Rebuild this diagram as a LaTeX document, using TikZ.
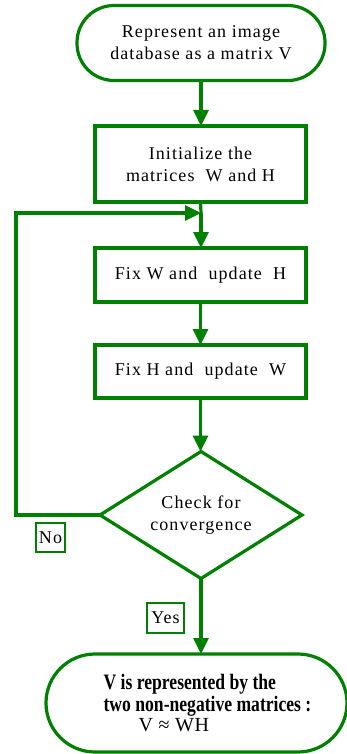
\documentclass[tikz,border=0pt]{standalone}
\usepackage{fontspec}
\setmainfont{Liberation Serif}
\newfontfamily\condfont[FakeStretch=0.8]{Liberation Serif}
\usetikzlibrary{arrows.meta,shapes.geometric}
\definecolor{fg}{RGB}{0,128,0}
\newcommand\mfont{\fontsize{18}{22}\selectfont\addfontfeatures{LetterSpace=6}}
\newcommand\bfnt{\condfont\fontsize{22}{28}\selectfont\bfseries}
\begin{document}
\begin{tikzpicture}[x=1pt,y=-1pt,
  line/.style={draw=fg, line width=3.2pt},
  arr/.style={line, -{Triangle[length=16pt,width=15pt]}},
  shp/.style={draw=fg, line width=3.2pt, align=center, inner sep=0pt, outer sep=0pt, text=black, font=\mfont},
  term/.style={shp, rectangle, rounded corners=37pt, minimum width=248pt, minimum height=75pt},
  proc/.style={shp, rectangle, minimum width=211pt},
  dec/.style={shp, diamond, aspect=1.6, minimum width=202pt, minimum height=127pt},
  tag/.style={draw=fg, line width=2.6pt, inner sep=0pt, text=black, font=\mfont}]
\useasboundingbox (0,0) rectangle (347,754);
\node[term] (t1) at (201,43) {Represent an image\\database as a matrix V};
\node[proc, minimum height=76pt] (b2) at (200.5,164) {Initialize the\\matrices\ \ W and H};
\node[proc, minimum height=54pt] (b3) at (200.5,275) {Fix W and\ \ update\ \ H};
\node[proc, minimum height=53pt] (b4) at (200.5,371.5) {Fix H and\ \ update\ \ W};
\node[dec] (d) at (201,515) {Check for\\convergence};
\node[shp, rectangle, rounded corners=49pt, minimum width=301pt, minimum height=98pt, align=left] (t5) at (196.5,703)
  {\hspace*{22pt}{\bfnt V is represented by the}\\[0pt]
   \hspace*{22pt}{\bfnt two non-negative matrices :}\\[-2pt]
   \hspace*{57pt}{\fontsize{20}{24}\selectfont\addfontfeatures{LetterSpace=3}V ≈ WH}};
\node[tag, minimum width=29pt, minimum height=29pt] (no) at (50.5,537.5) {No};
\node[tag, minimum width=37pt, minimum height=30pt] (yes) at (165.5,618) {Yes};
\coordinate (j) at (201,213);
\coordinate (corner) at (16,515);
\draw[arr] (t1.south) -- (t1.south |- b2.north);
\draw[line] (b2.south) -- (j);
\draw[arr] (j) -- (j |- b3.north);
\draw[arr] (b3.south) -- (b3.south |- b4.north);
\draw[arr] (b4.south) -- (b4.south |- d.north);
\draw[arr] (d.west) -- (corner) |- (j);
\draw[arr] (d.south) -- (d.south |- t5.north);
\end{tikzpicture}
\end{document}
